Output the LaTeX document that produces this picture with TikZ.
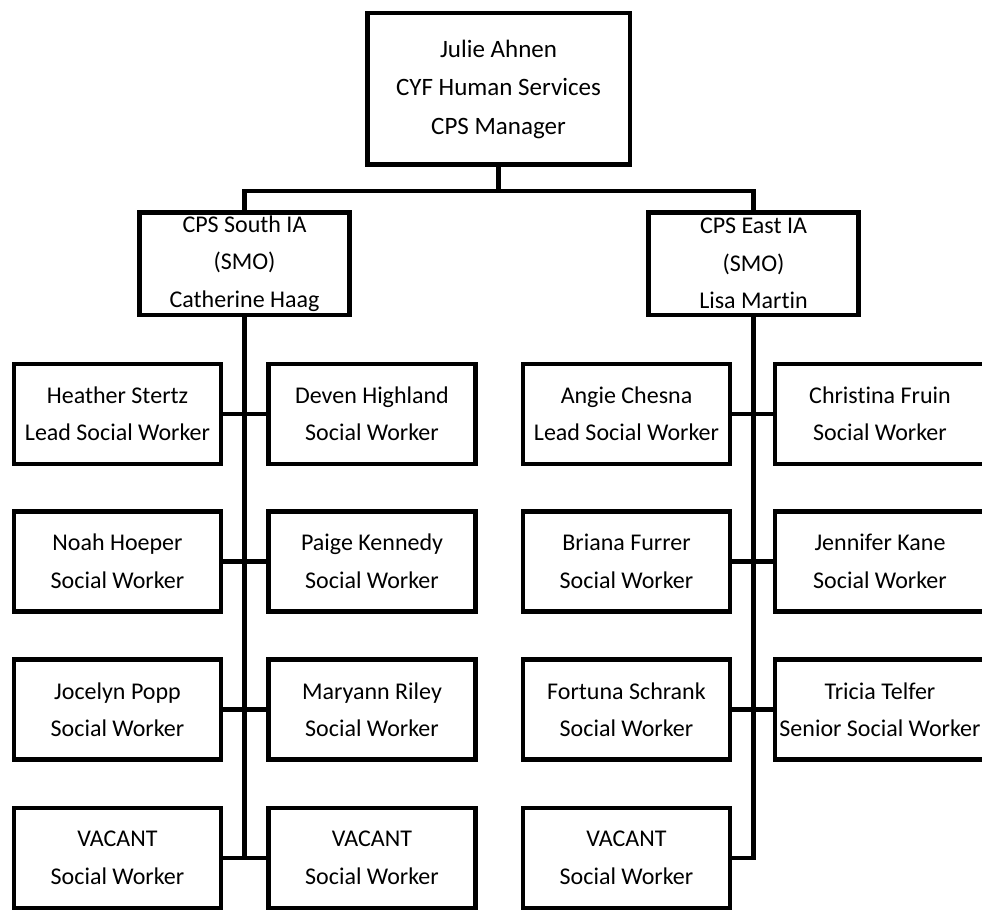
\documentclass[tikz,border=0pt]{standalone}
\usepackage{fontspec}
\setmainfont[Ligatures=NoCommon]{Carlito}
\usepackage{tikz}

\begin{document}
\begin{tikzpicture}[x=1pt, y=-1pt,
	box/.style={draw, line width=4.5pt, align=center, inner sep=0pt, font=\fontsize{24}{37.5}\selectfont},
	office/.style={box, minimum width=210pt, minimum height=102.5pt},
	worker/.style={box, minimum width=207pt, minimum height=100pt},
	link/.style={line width=4.5pt}]
			\clip (0,0) rectangle (982,912);
			\node[box, minimum width=262.5pt, minimum height=151.5pt, font=\fontsize{25}{38.5}\selectfont] (mgr) at (498.5,89) {Julie Ahnen\\CYF Human Services\\CPS Manager};
			\node[office] (south) at (244.5,263.5) {CPS South IA\\(SMO)\\Catherine Haag};
			\node[office] (east) at (753.5,263.5) {CPS East IA\\(SMO)\\Lisa Martin};
			
			\node[worker] (sl1) at (117.5,414) {Heather Stertz\\Lead Social Worker};
			\node[worker] (sr1) at (372,414) {Deven Highland\\Social Worker};
			\node[worker] (sl2) at (117.5,561.5) {Noah Hoeper\\Social Worker};
			\node[worker] (sr2) at (372,561.5) {Paige Kennedy\\Social Worker};
			\node[worker] (sl3) at (117.5,709.5) {Jocelyn Popp\\Social Worker};
			\node[worker] (sr3) at (372,709.5) {Maryann Riley\\Social Worker};
			\node[worker] (sl4) at (117.5,858) {VACANT\\Social Worker};
			\node[worker] (sr4) at (372,858) {VACANT\\Social Worker};
			
			\node[worker] (el1) at (626.5,414) {Angie Chesna\\Lead Social Worker};
			\node[worker, minimum width=210pt] (er1) at (880,414) {Christina Fruin\\Social Worker};
			\node[worker] (el2) at (626.5,561.5) {Briana Furrer\\Social Worker};
			\node[worker, minimum width=210pt] (er2) at (880,561.5) {Jennifer Kane\\Social Worker};
			\node[worker] (el3) at (626.5,709.5) {Fortuna Schrank\\Social Worker};
			\node[worker, minimum width=210pt] (er3) at (880,709.5) {Tricia Telfer\\Senior Social Worker};
			\node[worker] (el4) at (626.5,858) {VACANT\\Social Worker};
			
			\draw[link] (mgr.south) -- ++(0,24) coordinate (bus);
			\draw[link] (south.north) |- (bus) -| (east.north);
			\draw[link] (south.south) -- (south.south |- sl4.east);
			\draw[link] (east.south) -- (east.south |- el4.east) -- (el4.east);
			\foreach \r in {1,2,3,4}
				\draw[link] (sl\r.east) -- (sr\r.west);
			\foreach \r in {1,2,3}
				\draw[link] (el\r.east) -- (er\r.west);
			
			\end{tikzpicture}
\end{document}
